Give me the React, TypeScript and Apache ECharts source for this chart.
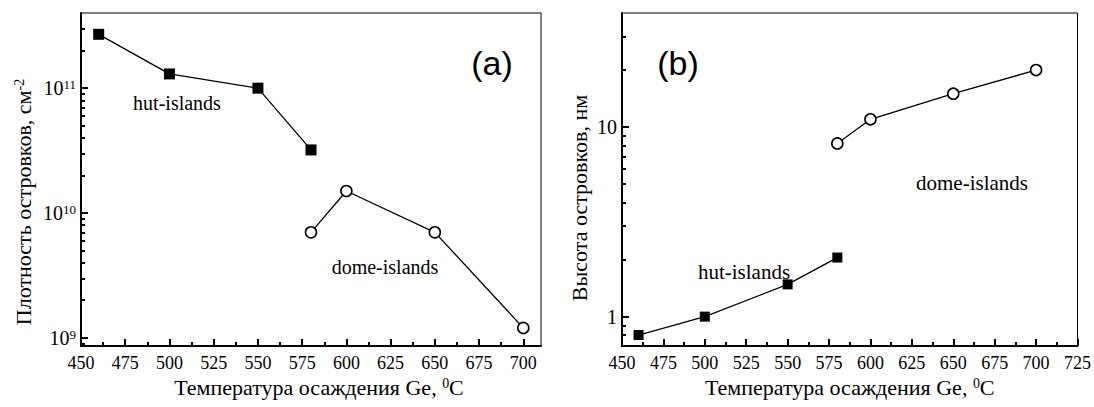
import React, { useEffect, useRef } from 'react';
import * as echarts from 'echarts';

// ---- data ----
const tempHutA = [460, 500, 550, 580];
const densityHut = [2.7e11, 1.3e11, 1.0e11, 3.2e10];
const tempDomeA = [580, 600, 650, 700];
const densityDome = [7.0e9, 1.5e10, 7.0e9, 1.2e9];

const tempHutB = [460, 500, 550, 580];
const heightHut = [0.8, 1.0, 1.48, 2.05];
const tempDomeB = [580, 600, 650, 700];
const heightDome = [8.2, 11, 15, 20];

// ---- ticks ----
const xTicksA = [450, 475, 500, 525, 550, 575, 600, 625, 650, 675, 700];
const xMinorA = [462.5, 487.5, 512.5, 537.5, 562.5, 587.5, 612.5, 637.5, 662.5, 687.5];
const xTicksB = [450, 475, 500, 525, 550, 575, 600, 625, 650, 675, 700, 725];
const xMinorB = [462.5, 487.5, 512.5, 537.5, 562.5, 587.5, 612.5, 637.5, 662.5, 687.5, 712.5];
const yTicksA = [1e9, 1e10, 1e11];
const yMinorA = [9e8, 2e9, 3e9, 4e9, 5e9, 6e9, 7e9, 8e9, 9e9, 2e10, 3e10, 4e10, 5e10, 6e10, 7e10, 8e10, 9e10, 2e11, 3e11];
const yTicksB = [1, 10];
const yMinorB = [0.8, 0.9, 2, 3, 4, 5, 6, 7, 8, 9, 20, 30];

const serif = 'Liberation Serif';
const sans = 'Liberation Sans';
const black = '#000';

const supRich = {
  b: { fontFamily: serif, fontSize: 20, color: black },
  s: { fontFamily: serif, fontSize: 13, color: black, verticalAlign: 'top' },
};

function zip(xs: number[], ys: number[]) {
  return xs.map((x, i) => [x, ys[i]]);
}

function mainX(gridIndex: number, min: number, max: number, ticks: number[], namePadLeft: number) {
  return {
    type: 'value', gridIndex, min, max, position: 'bottom',
    axisLine: { show: true, onZero: false, lineStyle: { color: black, width: 2 } },
    axisTick: { show: true, inside: true, length: 7, customValues: ticks, lineStyle: { color: black, width: 2 } },
    axisLabel: { show: true, customValues: ticks, margin: 8, color: black, fontFamily: serif, fontSize: 18 },
    splitLine: { show: false },
    name: 'Температура осаждения Ge, {s|0}C',
    nameLocation: 'middle', nameGap: 30,
    nameTextStyle: {
      fontFamily: serif, fontSize: 22, color: black, padding: [0, 0, 0, namePadLeft],
      rich: { s: { fontFamily: serif, fontSize: 14, color: black, verticalAlign: 'top' } },
    },
  };
}
function minorX(gridIndex: number, min: number, max: number, ticks: number[]) {
  return {
    type: 'value', gridIndex, min, max, position: 'bottom',
    axisLine: { show: false },
    axisTick: { show: true, inside: true, length: 4, customValues: ticks, lineStyle: { color: black, width: 2 } },
    axisLabel: { show: false },
    splitLine: { show: false },
  };
}
function mainY(gridIndex: number, min: number, max: number, ticks: number[], fmt: (v: number) => string) {
  return {
    type: 'log', logBase: 10, gridIndex, min, max, position: 'left',
    axisLine: { show: true, onZero: false, lineStyle: { color: black, width: 2 } },
    axisTick: { show: true, inside: true, length: 7, customValues: ticks, lineStyle: { color: black, width: 2 } },
    axisLabel: { show: true, customValues: ticks, margin: 5, formatter: fmt, rich: supRich, color: black, fontFamily: serif, fontSize: 20 },
    splitLine: { show: false },
    minorTick: { show: false },
  };
}
function minorY(gridIndex: number, min: number, max: number, ticks: number[]) {
  return {
    type: 'log', logBase: 10, gridIndex, min, max, position: 'left',
    axisLine: { show: false },
    axisTick: { show: true, inside: true, length: 4, customValues: ticks, lineStyle: { color: black, width: 2 } },
    axisLabel: { show: false },
    splitLine: { show: false },
  };
}

const lineStyle = { color: black, width: 1.3 };
const squareItem = { color: black };
const circleItem = { color: '#fff', borderColor: black, borderWidth: 1.6 };

const label = (text: string, x: number, y: number, size: number, family: string) => ({
  type: 'text', x, y, silent: true,
  style: { text, fill: black, fontSize: size, fontFamily: family, textAlign: 'center', textVerticalAlign: 'middle' },
});

const option = {
  animation: false,
  backgroundColor: '#fff',
  grid: [
    { left: 81, right: 553, top: 13, bottom: 61, show: true, borderColor: black, borderWidth: 1, backgroundColor: 'transparent' },
    { left: 622, right: 16, top: 13, bottom: 61, show: true, borderColor: black, borderWidth: 1, backgroundColor: 'transparent' },
  ],
  xAxis: [
    mainX(0, 450, 710, xTicksA, 16),
    minorX(0, 450, 710, xMinorA),
    mainX(1, 450, 725, xTicksB, 0),
    minorX(1, 450, 725, xMinorB),
  ],
  yAxis: [
    mainY(0, 8.6e8, 4e11, yTicksA, (v: number) => `{b|10}{s|${Math.round(Math.log10(v))}}`),
    minorY(0, 8.6e8, 4e11, yMinorA),
    mainY(1, 0.7, 40, yTicksB, (v: number) => `{b|${Math.round(v)}}`),
    minorY(1, 0.7, 40, yMinorB),
  ],
  series: [
    { type: 'line', xAxisIndex: 0, yAxisIndex: 0, data: zip(tempHutA, densityHut), symbol: 'rect', symbolSize: 11, itemStyle: squareItem, lineStyle, silent: true },
    { type: 'line', xAxisIndex: 0, yAxisIndex: 0, data: zip(tempDomeA, densityDome), symbol: 'circle', symbolSize: 11, showAllSymbol: true, itemStyle: circleItem, lineStyle, silent: true },
    { type: 'line', xAxisIndex: 2, yAxisIndex: 2, data: zip(tempHutB, heightHut), symbol: 'rect', symbolSize: 10, itemStyle: squareItem, lineStyle, silent: true },
    { type: 'line', xAxisIndex: 2, yAxisIndex: 2, data: zip(tempDomeB, heightDome), symbol: 'circle', symbolSize: 11, itemStyle: circleItem, lineStyle, silent: true },
  ],
  graphic: [
    label('(a)', 492, 63, 34, sans),
    label('(b)', 678, 63, 34, sans),
    label('hut-islands', 177, 103, 20, serif),
    label('dome-islands', 385, 267, 20, serif),
    label('dome-islands', 972, 183, 21, serif),
    label('hut-islands', 744, 272, 21, serif),
    {
      type: 'text', x: 23, y: 202, rotation: Math.PI / 2, silent: true,
      style: {
        text: 'Плотность островков, см{s|-2}', fill: black, fontSize: 22, fontFamily: serif,
        textAlign: 'center', textVerticalAlign: 'middle',
        rich: { s: { fontFamily: serif, fontSize: 14, fill: black, verticalAlign: 'top' } },
      },
    },
    {
      type: 'text', x: 579, y: 198, rotation: Math.PI / 2, silent: true,
      style: { text: 'Высота островков, нм', fill: black, fontSize: 22, fontFamily: serif, textAlign: 'center', textVerticalAlign: 'middle' },
    },
  ],
};

export default function App() {
  const ref = useRef<HTMLDivElement>(null);
  useEffect(() => {
    const chart = echarts.init(ref.current!, null, { renderer: 'svg' });
    chart.setOption(option as any);
    return () => chart.dispose();
  }, []);
  return <div ref={ref} style={{ position: 'fixed', left: 0, top: 0, width: 1094, height: 407, background: '#fff' }} />;
}
